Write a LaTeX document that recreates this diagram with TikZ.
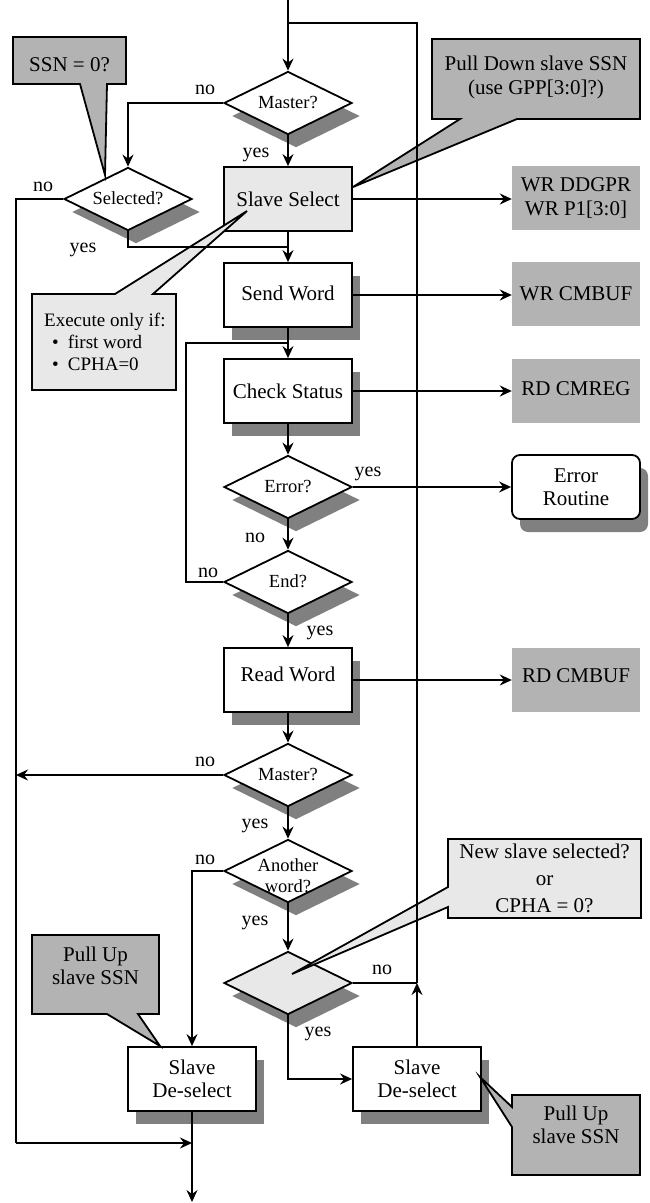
\documentclass[tikz,border=0pt]{standalone}
\usepackage{fontspec}
\setmainfont{Liberation Serif}
\usetikzlibrary{shapes.geometric,shadows,arrows.meta}

\definecolor{shgray}{HTML}{808080}
\definecolor{darkfill}{HTML}{B3B3B3}
\definecolor{lightfill}{HTML}{E8E8E8}

% text of a decision diamond: takes no room, so the diamond keeps its size
\newcommand\dlabel[2][-6pt]{\smash{\raisebox{#1}{\makebox[0pt]{\begin{tabular}{@{}c@{}}#2\end{tabular}}}}}

\tikzset{
  every node/.style={font=\fontsize{21}{23.5}\selectfont},
  conn/.style={line width=1.6pt},
  arr/.style={conn, -{Stealth[length=12pt,width=11pt,inset=4pt]}},
  shad/.style={drop shadow={shadow xshift=8pt, shadow yshift=-13pt, fill=shgray, opacity=1}},
  procbox/.style={rectangle, draw, line width=1.8pt, fill=white, minimum width=128pt,
    minimum height=64pt, inner sep=0pt, align=center},
  decbox/.style={diamond, draw, line width=1.8pt, fill=white, minimum width=128pt,
    minimum height=63pt, inner sep=0pt, font=\fontsize{18.5}{21}\selectfont},
  regbox/.style={rectangle, fill=darkfill, minimum width=128pt, minimum height=64pt,
    inner sep=0pt, align=center},
  lbl/.style={font=\fontsize{20}{22}\selectfont, inner sep=0pt},
  callout/.style={draw, line width=1.8pt},
  ctext/.style={inner sep=0pt, align=center},
}

\begin{document}
\begin{tikzpicture}[x=1pt,y=-1pt]
\useasboundingbox (0,0) rectangle (650,1203);

% ---------- flow elements ----------
\node[decbox, shad] (m1) at (288,103) {\dlabel{Master?}};
\node[decbox, shad] (sel) at (128,199) {\dlabel{Selected?}};
\node[procbox, fill=lightfill] (ss) at (288,199) {Slave Select};
\node[regbox] (wr1) at (576,198) {WR DDGPR\\WR P1[3:0]};
\node[procbox, shad] (sw) at (288,295) {\raisebox{3pt}{Send Word}};
\node[regbox] (wr2) at (576,294) {WR CMBUF};
\node[procbox, shad] (cs) at (288,391) {Check Status};
\node[regbox] (rdreg) at (576,390.5) {\raisebox{3pt}{RD CMREG}};
\node[decbox, shad] (err) at (288,487) {\dlabel{Error?}};
\node[procbox, shad, rounded corners=8pt] (erout) at (576,487) {Error\\Routine};
\node[decbox, shad] (endq) at (288,582) {\dlabel{End?}};
\node[procbox, shad] (rw) at (288,680) {\raisebox{11pt}{Read Word}};
\node[regbox] (rdbuf) at (576,680) {\raisebox{8pt}{RD CMBUF}};
\node[decbox, shad] (m2) at (288,775) {\dlabel{Master?}};
\node[decbox, shad] (aw) at (288,871) {\dlabel[-11pt]{Another\\word?}};
\node[decbox, shad, fill=lightfill] (gd) at (288,983) {};
\node[procbox, shad] (lds) at (192,1079) {Slave\\De-select};
\node[procbox, shad] (rds) at (417,1079) {Slave\\De-select};

% ---------- callouts ----------
\draw[callout, fill=darkfill] (13,37) -- (126,37) -- (126,84) -- (107,84) -- (105,175)
  -- (80,84) -- (13,84) -- cycle;
\node[ctext] (c1) at (69.5,65) {SSN = 0?};

\draw[callout, fill=darkfill] (432,39) -- (640,39) -- (640,119) -- (517,119) -- (353,187)
  -- (460,119) -- (432,119) -- cycle;
\node[ctext] (c2) at (536,77.5) {Pull Down slave SSN\\(use GPP[3:0]?)};

\draw[callout, fill=lightfill] (32,294) -- (115,294) -- (247,211) -- (153,294)
  -- (176,294) -- (176,390) -- (32,390) -- cycle;
\node[ctext, anchor=north west, align=left, font=\fontsize{19}{22}\selectfont] (c3) at (44,313)
  {Execute only if:\\\hspace*{8pt}\textbullet\hspace{9pt}first word\\\hspace*{8pt}\textbullet\hspace{9pt}CPHA=0};

\draw[callout, fill=lightfill] (448,839) -- (641,839) -- (641,918) -- (448,918) -- (448,907)
  -- (292,974) -- (448,887) -- cycle;
\node[ctext, font=\fontsize{21}{27}\selectfont] (c4) at (544.5,878) {New slave selected?\\or\\CPHA = 0?};

\draw[callout, fill=darkfill] (32,935) -- (159,935) -- (159,1014) -- (138,1014) -- (160,1046)
  -- (107,1014) -- (32,1014) -- cycle;
\node[ctext] (c5) at (95.5,966) {Pull Up\\slave SSN};

\draw[callout, fill=darkfill] (512,1095) -- (640,1095) -- (640,1175) -- (512,1175) -- (512,1127)
  -- (480,1077) -- (512,1107) -- cycle;
\node[ctext] (c6) at (576,1125) {Pull Up\\slave SSN};

% ---------- connectors ----------
\coordinate (entry) at (288,0);
\coordinate (loopR) at (417,23);
\coordinate (loopL) at (288,23);
\coordinate (loopJ) at (417,983);
\coordinate (selJ) at (288,247);
\coordinate (leftT) at (16,199);
\coordinate (leftB) at (16,1143);
\coordinate (exitJ) at (192,1143);
\coordinate (exitE) at (192,1202);
\coordinate (m2no) at (16,775);
\coordinate (endL) at (186,582);
\coordinate (endU) at (186,343);
\coordinate (csJ) at (288,343);

\draw[arr] (entry) -- (m1.north);
\draw[conn] (loopJ) -- (loopR) -- (loopL);
\draw[arr] (rds.north) -- (loopJ);
\draw[arr] (m1.west) -| (sel.north);
\draw[arr] (m1.south) -- (ss.north);
\draw[conn] (sel.west) -- (leftT) -- (leftB);
\draw[arr] (leftB) -- (exitJ);
\draw[conn] (sel.south) |- (selJ);
\draw[arr] (ss.south) -- (sw.north);
\draw[arr] (ss.east) -- (wr1.west |- ss.east);
\draw[arr] (sw.south) -- (cs.north);
\draw[arr] (sw.east) -- (wr2.west |- sw.east);
\draw[arr] (cs.east) -- (rdreg.west |- cs.east);
\draw[conn] (endq.west) -- (endL) -- (endU) -- (csJ);
\draw[arr] (cs.south) -- (err.north);
\draw[arr] (err.east) -- (erout.west |- err.east);
\draw[arr] (err.south) -- (endq.north);
\draw[arr] (endq.south) -- (rw.north);
\draw[arr] (rw.east) -- (rdbuf.west |- rw.east);
\draw[arr] (rw.south) -- (m2.north);
\draw[arr] (m2.west) -- (m2no);
\draw[arr] (m2.south) -- (aw.north);
\draw[arr] (aw.west) -| (lds.north);
\draw[arr] (aw.south) -- (gd.north);
\draw[conn] (gd.east) -- (loopJ);
\draw[arr] (gd.south) |- (rds.west);
\draw[arr] (lds.south) -- (exitE);

% ---------- branch labels ----------
\node[lbl] (l1) at (205,90) {no};
\node[lbl] (l2) at (256,155) {yes};
\node[lbl] (l3) at (43,187) {no};
\node[lbl] (l4) at (83,250) {yes};
\node[lbl] (l5) at (368,474) {yes};
\node[lbl] (l6) at (255,538) {no};
\node[lbl] (l7) at (208,573) {no};
\node[lbl] (l8) at (320,633) {yes};
\node[lbl] (l9) at (205,762) {no};
\node[lbl] (l10) at (255,826) {yes};
\node[lbl] (l11) at (205,860) {no};
\node[lbl] (l12) at (255,923) {yes};
\node[lbl] (l13) at (382,970) {no};
\node[lbl] (l14) at (318,1034) {yes};
\end{tikzpicture}
\end{document}
